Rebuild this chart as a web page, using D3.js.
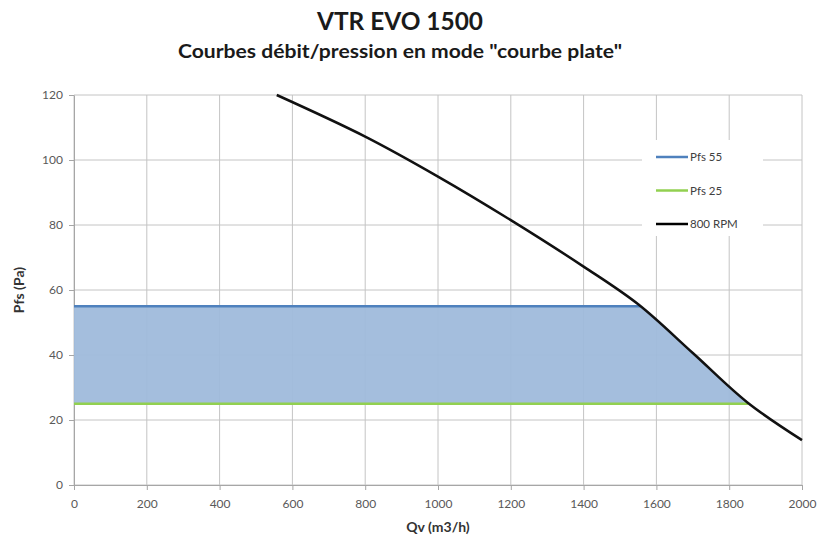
<!DOCTYPE html>
<html>
<head>
<meta charset="utf-8">
<script src="https://cdn.jsdelivr.net/npm/d3@7"></script>
<style>
  body { margin: 0; background: #fff; }
  svg { display: block; font-family: Lato, "Open Sans", sans-serif; }
</style>
</head>
<body>
<svg id="chart" width="820" height="546"></svg>
<script>
// flow (m3/h) / pressure (Pa)
var curveQv = [557, 800, 1000, 1200, 1400, 1550, 1700, 1850, 2000];
var curvePfs = [120, 107.2, 94.9, 81.5, 67.2, 55.6, 40.6, 25.4, 13.8];

var pfsHigh = 55, pfsLow = 25;
var highEnd = 1556, lowEnd = 1852;

var xTicks = [0, 200, 400, 600, 800, 1000, 1200, 1400, 1600, 1800, 2000];
var yTicks = [0, 20, 40, 60, 80, 100, 120];

var legendNames = ["Pfs 55", "Pfs 25", "800 RPM"];
var legendColors = ["#4f81bd", "#92d050", "#000000"];

var svg = d3.select("#chart");
var margin = {left: 74, right: 18, top: 95, bottom: 61};
var width = 820 - margin.left - margin.right,
    height = 546 - margin.top - margin.bottom;

var x = d3.scaleLinear().domain([0, 2000]).range([margin.left, margin.left + width]);
var y = d3.scaleLinear().domain([0, 120]).range([margin.top + height, margin.top]);

// titles
svg.append("text").attr("x", 400).attr("y", 30).attr("text-anchor", "middle")
    .attr("font-size", 24).attr("font-weight", "bold").attr("fill", "#1a1a1a")
    .attr("textLength", 166).attr("lengthAdjust", "spacingAndGlyphs")
    .text("VTR EVO 1500");
svg.append("text").attr("x", 400).attr("y", 58).attr("text-anchor", "middle")
    .attr("font-size", 18).attr("font-weight", "bold").attr("fill", "#1a1a1a")
    .attr("textLength", 444).attr("lengthAdjust", "spacingAndGlyphs")
    .text("Courbes débit/pression en mode \"courbe plate\"");

// grid
var grid = svg.append("g").attr("stroke", "#c4c4c4").attr("stroke-width", 1);
xTicks.forEach(function (t) {
    grid.append("line").attr("x1", x(t)).attr("x2", x(t)).attr("y1", y(0)).attr("y2", y(120));
});
yTicks.forEach(function (t) {
    grid.append("line").attr("x1", x(0)).attr("x2", x(2000)).attr("y1", y(t)).attr("y2", y(t));
});

// axes
var xAxis = svg.append("g").attr("transform", "translate(0," + y(0) + ")")
    .call(d3.axisBottom(x).tickValues(xTicks).tickFormat(d3.format("d"))
        .tickSize(5).tickPadding(9).tickSizeOuter(0));
var yAxis = svg.append("g").attr("transform", "translate(" + x(0) + ",0)")
    .call(d3.axisLeft(y).tickValues(yTicks).tickFormat(d3.format("d"))
        .tickSize(5).tickPadding(6).tickSizeOuter(0));
[xAxis, yAxis].forEach(function (a) {
    a.select(".domain").attr("stroke", "#a6a6a6");
    a.selectAll(".tick line").attr("stroke", "#a6a6a6");
    a.selectAll("text").attr("fill", "#595959").attr("font-size", 12)
        .attr("font-family", "Lato, sans-serif");
});

var curve = curveQv.map(function (q, i) { return [q, curvePfs[i]]; });
var curveLine = d3.line().curve(d3.curveCatmullRom.alpha(0.5))
    .x(function (d) { return x(d[0]); }).y(function (d) { return y(d[1]); });

// shaded operating zone: band 25..55 clipped to the area under the curve
svg.append("clipPath").attr("id", "under")
    .append("path").attr("d", curveLine(curve)
        + "L" + x(2000) + "," + y(0) + "L" + x(0) + "," + y(0) + "L" + x(0) + "," + y(120) + "Z");
svg.append("rect")
    .attr("x", x(0)).attr("y", y(pfsHigh))
    .attr("width", x(2000) - x(0)).attr("height", y(pfsLow) - y(pfsHigh))
    .attr("clip-path", "url(#under)")
    .attr("fill", "#9fbadb").attr("fill-opacity", 0.95);

svg.append("line").attr("x1", x(0)).attr("x2", x(highEnd)).attr("y1", y(pfsHigh)).attr("y2", y(pfsHigh))
    .attr("stroke", legendColors[0]).attr("stroke-width", 2.5);
svg.append("line").attr("x1", x(0)).attr("x2", x(lowEnd)).attr("y1", y(pfsLow)).attr("y2", y(pfsLow))
    .attr("stroke", legendColors[1]).attr("stroke-width", 2.5);

svg.append("path")
    .attr("d", curveLine(curve))
    .attr("fill", "none").attr("stroke", "#111").attr("stroke-width", 2.5);

// legend
var lg = svg.append("g");
lg.append("rect").attr("x", 642).attr("y", 140).attr("width", 121).attr("height", 96).attr("fill", "#fff");
legendNames.forEach(function (n, i) {
    var ly = 157 + i * 33.5;
    lg.append("line").attr("x1", 656).attr("x2", 688).attr("y1", ly).attr("y2", ly)
        .attr("stroke", legendColors[i]).attr("stroke-width", 2.5);
    lg.append("text").attr("x", 690).attr("y", ly + 4).attr("font-size", 11.5)
        .attr("fill", "#404040").text(n);
});

// axis titles
svg.append("text").attr("x", 438).attr("y", 532).attr("text-anchor", "middle")
    .attr("font-size", 14).attr("font-weight", "bold").attr("fill", "#333").text("Qv (m3/h)");
svg.append("text").attr("transform", "translate(24,290) rotate(-90)").attr("text-anchor", "middle")
    .attr("font-size", 14).attr("font-weight", "bold").attr("fill", "#333").text("Pfs (Pa)");
</script>
</body>
</html>
